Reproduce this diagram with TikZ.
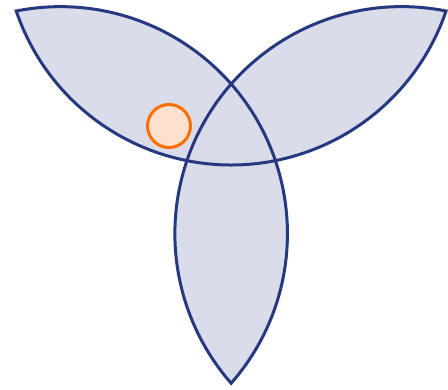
\documentclass[tikz,border=0pt]{standalone}
\usetikzlibrary{positioning}
\definecolor{petalfill}{RGB}{218,221,233}
\definecolor{petalline}{RGB}{38,57,128}
\definecolor{spotfill}{RGB}{253,225,204}
\definecolor{spotline}{RGB}{255,110,0}
\tikzset{
  petal/.style={fill=petalfill, draw=petalline, line width=3pt, line join=miter},
  spot/.style={circle, draw=spotline, fill=spotfill, line width=3pt, minimum size=43pt, inner sep=0pt}
}
\begin{document}
\begin{tikzpicture}[x=1pt,y=1pt]
    \useasboundingbox (-231,-254) rectangle (217,135);
    \coordinate (T1) at (150:248);
    \coordinate (T2) at (30:248);
    \coordinate (T3) at (270:248);
    \draw[petal] (T1) arc[start angle=198.77, end angle=341.23, radius=227pt]
      arc[start angle=78.77, end angle=221.23, radius=227pt]
      arc[start angle=-41.23, end angle=101.23, radius=227pt] -- cycle;
    \node[spot] (dot) at (-62,9) {};
  \end{tikzpicture}
\end{document}
